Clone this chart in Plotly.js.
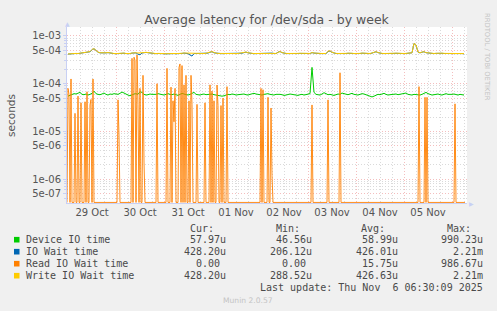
<!DOCTYPE html>
<html><head><meta charset="utf-8">
<script src="https://cdn.plot.ly/plotly-3.0.1.min.js"></script>
<style>html,body{margin:0;padding:0;background:#f0f0f0;} #chart{width:497px;height:311px;}</style>
</head><body><div id="chart"></div>
<script>
// ---------- DATA (hour offsets from 2025-10-29 00:00, values in microseconds) ----------
const seriesNames = ["Device IO time", "IO Wait time", "Read IO Wait time", "Write IO Wait time"];
const seriesColors = ["#00cc00", "#0066b3", "#ff8000", "#ffcc00"];
const curVals = ["57.97u", "428.20u", "0.00\u00a0", "428.20u"];
const minVals = ["46.56u", "206.12u", "0.00\u00a0", "288.52u"];
const avgVals = ["58.99u", "426.01u", "15.75u", "426.63u"];
const maxVals = ["990.23u", "2.21m", "986.67u", "2.21m"];
const lastUpdate = "Last update: Thu Nov \u00a06 06:30:09 2025";

const yTickVals = [5e-7, 1e-6, 5e-6, 1e-5, 5e-5, 1e-4, 5e-4, 1e-3];
const yTickText = ["5e-07", "1e-06", "5e-06", "1e-05", "5e-05", "1e-04", "5e-04", "1e-03"];

// hourly samples, h = 0 .. 198
const deviceIO = [
 55,57,60,62,61,63,66,60,59,61,58,60,63,70,62,60,59,61,64,60,58,61,60,62,
 61,60,63,67,64,60,58,56,59,61,62,60,68,66,60,58,59,61,60,59,60,62,61,59,
 58,60,62,60,59,61,58,57,60,63,61,59,58,60,62,66,60,59,58,60,61,59,60,62,
 61,59,58,56,57,55,56,58,60,59,61,60,58,59,60,62,61,59,58,60,62,63,61,60,
 59,58,60,61,62,60,59,58,60,61,60,59,57,58,60,61,60,59,58,57,59,60,58,59,
 60,62,220,66,60,59,58,61,65,62,59,60,58,57,59,61,60,64,62,60,59,61,63,60,
 59,58,60,62,61,59,55,54,53,55,58,60,59,61,63,60,58,59,60,62,61,59,60,61,
 62,64,60,59,58,60,59,57,58,60,63,66,62,60,58,59,60,61,59,58,60,62,60,59,
 60,61,59,58,60,59,58
];
const ioWait = [
 418,423,428,426,430,428,433,438,436,443,448,468,515,540,498,458,443,438,436,443,448,438,433,428,
 426,430,438,443,436,428,423,428,438,448,443,415,405,440,448,453,446,438,433,428,426,430,433,428,
 426,423,428,430,433,428,426,424,428,432,438,436,428,400,380,428,430,428,426,424,428,433,438,458,
 468,443,436,430,428,426,430,430,433,428,426,424,426,428,432,436,448,460,443,434,428,426,428,430,
 428,426,424,428,430,434,438,430,428,458,473,448,434,430,428,426,424,426,428,430,432,428,426,428,
 430,428,448,438,430,430,430,428,426,428,470,485,453,436,430,428,426,424,428,430,434,438,432,428,
 426,428,430,436,432,428,426,428,438,450,468,448,434,430,428,426,424,428,430,432,434,430,428,426,
 428,430,434,443,445,698,648,458,443,458,468,446,438,434,430,428,432,436,438,434,430,428,426,428,
 430,428,426,428,430,428,426
];
const writeIO = [
 420,425,430,428,432,430,435,440,438,445,450,470,520,545,500,460,445,440,438,445,450,440,435,430,
 428,432,440,445,438,430,425,430,440,450,445,440,438,442,450,455,448,440,435,430,428,432,435,430,
 428,425,430,432,435,430,428,426,430,434,440,438,432,430,428,430,432,430,428,426,430,435,440,460,
 470,445,438,432,430,428,430,432,435,430,428,426,428,430,434,438,450,462,445,436,430,428,430,432,
 430,428,426,430,432,436,440,432,430,460,475,450,436,432,430,428,426,428,430,432,434,430,428,430,
 432,430,450,440,432,432,432,430,428,430,480,490,455,438,432,430,428,426,430,432,436,440,434,430,
 428,430,432,438,434,430,428,430,440,452,470,450,436,432,430,428,426,430,432,434,436,432,430,428,
 430,432,436,445,445,700,650,460,445,460,470,448,440,436,432,430,434,438,440,436,432,430,428,430,
 432,430,428,430,432,430,428
];
// read wait: non-zero 30-min samples (all other samples are 0)
const readHours = [0.0,0.5,1.5,3.5,5.0,6.5,8.5,9.5,11.0,11.5,12.5,
 25.0,25.5,
 32.0,33.0,33.5,34.5,35.0,36.0,37.5,38.0,
 44.5,
 49.5,51.5,52.5,53.0,53.5,55.5,56.0,57.0,58.0,59.0,60.5,61.5,62.0,64.5,
 68.5,71.0,72.0,73.0,74.5,75.0,76.5,77.5,79.5,
 96.5,97.5,100.0,101.5,102.0,
 122.0,130.0,136.0,
 175.5,178.5,179.5,193.5];
const readValues = [80,60,126,24,55,40,42,68,36,47,126,
 46,8,
 340,360,310,400,37,80,150,2.3,
 100,
 210,85,44,16,80,220,260,240,95,150,44,150,37,37,
 40,95,70,44,94,35,35,50,87,
 80,75,52,31,1.2,
 36,46,170,
 87,52,52,38];

// ---------- helpers ----------
const T0 = Date.UTC(2025, 9, 29, 0, 0, 0);
function pad(n){ return (n < 10 ? "0" : "") + n; }
function tStr(h){
  const d = new Date(T0 + h * 3600000);
  return d.getUTCFullYear() + "-" + pad(d.getUTCMonth()+1) + "-" + pad(d.getUTCDate()) + " " +
         pad(d.getUTCHours()) + ":" + pad(d.getUTCMinutes()) + ":00";
}
const yMinLog = -6.496, yMaxLog = -2.812;
const floorVal = Math.pow(10, yMinLog + 0.012);
const hourly = deviceIO.map((_, i) => tStr(i));
const us = v => v * 1e-6;

const readMap = {};
readHours.forEach((h, i) => { readMap[Math.round(h * 2)] = readValues[i]; });
const readX = [], readY = [];
for (let k = -1; k <= 397; k++) {
  readX.push(tStr(k / 2));
  const v = readMap[k] !== undefined ? us(readMap[k]) : 0;
  readY.push(Math.max(v, floorVal));
}

const traces = [
  {x: hourly, y: deviceIO.map(us), type: "scatter", mode: "lines", line: {color: seriesColors[0], width: 1}, hoverinfo: "skip"},
  {x: hourly, y: ioWait.map(us), type: "scatter", mode: "lines", line: {color: seriesColors[1], width: 1}, hoverinfo: "skip"},
  {x: readX, y: readY, type: "scatter", mode: "lines", line: {color: seriesColors[2], width: 0.9}, hoverinfo: "skip"},
  {x: hourly, y: writeIO.map(us), type: "scatter", mode: "lines", line: {color: seriesColors[3], width: 1}, hoverinfo: "skip"}
];

// minor y grid values (2..9 x decade)
const yMinorVals = [];
for (let e = -7; e <= -3; e++) for (const m of [2,3,4,6,7,8,9]) yMinorVals.push(m * Math.pow(10, e));

// ---------- layout ----------
const L = 67, R = 467, TOP = 27, BOT = 203;
const px2x = px => (px - L) / (R - L);
const py2y = py => (BOT - py) / (BOT - TOP);
const MONO = "DejaVu Sans Mono", SANS = "DejaVu Sans";
const TXT = "#4a4a4a";
const annotations = [], shapes = [];
function ann(text, px, py, xanchor, font, extra){
  annotations.push(Object.assign({text: text, xref: "paper", yref: "paper", x: px2x(px), y: py2y(py),
    xanchor: xanchor, yanchor: "middle", showarrow: false, borderpad: 0, borderwidth: 0, font: font}, extra || {}));
}
const legFont = {family: MONO, size: 10, color: TXT};
ann("Cur:", 213.5, 228.3, "right", legFont);
ann("Min:", 299.5, 228.3, "right", legFont);
ann("Avg:", 384.5, 228.3, "right", legFont);
ann("Max:", 470.5, 228.3, "right", legFont);
const rowY = [239.7, 251.7, 263.7, 275.7];
seriesNames.forEach((n, i) => {
  const y = rowY[i];
  shapes.push({type: "rect", xref: "paper", yref: "paper", x0: px2x(14), x1: px2x(19.5), y0: py2y(y + 2.8), y1: py2y(y - 2.8),
    fillcolor: seriesColors[i], line: {width: 0}});
  ann(n, 26, y, "left", legFont);
  ann(curVals[i], 225.5, y, "right", legFont);
  ann(minVals[i], 312, y, "right", legFont);
  ann(avgVals[i], 397.5, y, "right", legFont);
  ann(maxVals[i], 482.5, y, "right", legFont);
});
ann(lastUpdate, 482.5, 287.3, "right", legFont);
ann("Munin 2.0.57", 248, 300.3, "center", {family: SANS, size: 7.6, color: "#c4c4c4"});
ann("RRDTOOL / TOBI OETIKER", 487, 57, "center", {family: SANS, size: 6.8, color: "#c4c4c4"}, {textangle: 90});
ann("seconds", 11, 115, "center", {family: SANS, size: 10.5, color: "#555"}, {textangle: -90});
ann("\u25B2", 67, 23, "center", {family: SANS, size: 6, color: "#c8d0f4"});
ann("\u25B6", 471, 203, "center", {family: SANS, size: 6, color: "#c8d0f4"});

const MGRID = "rgba(230,110,110,0.45)", GRID = "rgba(150,150,150,0.35)", AXIS = "#c8d0f4";
const layout = {
  width: 497, height: 311,
  margin: {l: L, r: 497 - R, t: TOP, b: 311 - BOT},
  paper_bgcolor: "#f0f0f0", plot_bgcolor: "#ffffff",
  showlegend: false,
  title: {text: "Average latency for /dev/sda - by week", x: 248/497, xanchor: "center",
    y: 1 - 19.3/311, yanchor: "middle", yref: "container", xref: "paper",
    font: {family: SANS, size: 12.5, color: "#555"}},
  xaxis: {type: "date", range: [tStr(-0.5), tStr(199.5)], tick0: "2025-10-29", dtick: 86400000,
    tickformat: "%d %b", ticklabelmode: "period", showgrid: true, gridcolor: MGRID, griddash: "1px,2px", gridwidth: 1,
    minor: {dtick: 21600000, tick0: "2025-10-29", showgrid: true, gridcolor: GRID, griddash: "1px,2px", gridwidth: 1},
    showline: true, linecolor: AXIS, linewidth: 1, zeroline: false, ticks: "",
    tickfont: {family: SANS, size: 10, color: "#555"}, fixedrange: true},
  yaxis: {type: "log", range: [yMinLog, yMaxLog], tickmode: "array", tickvals: yTickVals, ticktext: yTickText,
    showgrid: true, gridcolor: MGRID, griddash: "1px,2px", gridwidth: 1,
    minor: {tickmode: "array", tickvals: yMinorVals, showgrid: true, gridcolor: GRID, griddash: "1px,2px", gridwidth: 1,
      ticks: "outside", ticklen: 2, tickcolor: AXIS},
    ticks: "outside", ticklen: 3, tickcolor: AXIS, showline: true, linecolor: AXIS, linewidth: 1, zeroline: false,
    tickfont: {family: SANS, size: 10, color: "#555"}, fixedrange: true},
  annotations: annotations, shapes: shapes
};
Plotly.newPlot("chart", traces, layout, {displayModeBar: false, staticPlot: true});
</script></body></html>
